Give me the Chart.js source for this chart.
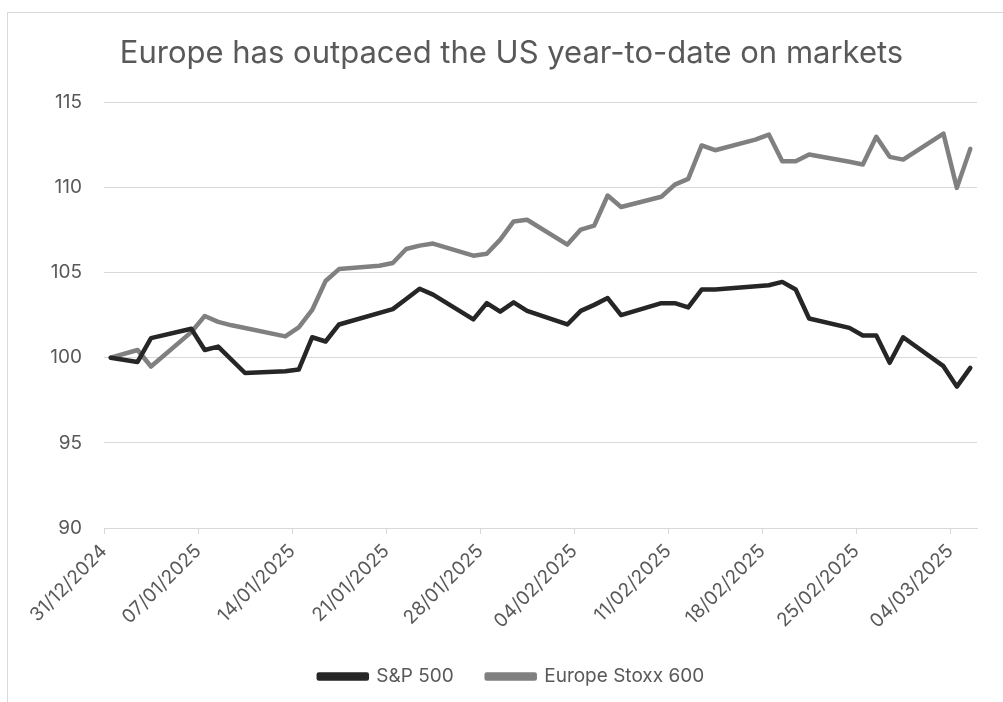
<!DOCTYPE html>
<html lang="en">
<head>
  <meta charset="UTF-8" />
  <title>Europe vs US markets</title>
  <script src="https://cdn.jsdelivr.net/npm/chart.js"></script>
  <style>
    body {
      margin: 0;
      background: #fff;
      overflow: hidden;
      width: 1003px;
      height: 702px;
      position: relative;
    }

    .frame {
      position: absolute;
      left: 7px;
      top: 12px;
      width: 1100px;
      height: 800px;
      border: 1px solid #d9d9d9;
    }

    #marketChart {
      position: absolute;
      left: 0;
      top: 0;
    }
  </style>
</head>
<body>
  <div class="frame"></div>
  <canvas id="marketChart" width="1023" height="704"></canvas>

  <script>
    // trading days (dd/mm/yyyy)
    const dates = [
      '31/12/2024', '02/01/2025', '03/01/2025', '06/01/2025', '07/01/2025', '08/01/2025',
      '09/01/2025', '10/01/2025', '13/01/2025', '14/01/2025', '15/01/2025', '16/01/2025',
      '17/01/2025', '20/01/2025', '21/01/2025', '22/01/2025', '23/01/2025', '24/01/2025',
      '27/01/2025', '28/01/2025', '29/01/2025', '30/01/2025', '31/01/2025', '03/02/2025',
      '04/02/2025', '05/02/2025', '06/02/2025', '07/02/2025', '10/02/2025', '11/02/2025',
      '12/02/2025', '13/02/2025', '14/02/2025', '17/02/2025', '18/02/2025', '19/02/2025',
      '20/02/2025', '21/02/2025', '24/02/2025', '25/02/2025', '26/02/2025', '27/02/2025',
      '28/02/2025', '03/03/2025', '04/03/2025', '05/03/2025'
    ];

    // S&P 500 rebased to 100 (null = US market closed)
    const sp500 = [
      100, 99.75, 101.15, 101.7, 100.45, 100.65,
      null, 99.1, 99.2, 99.3, 101.2, 100.95,
      101.95, null, 102.85, 103.45, 104.05, 103.7,
      102.25, 103.2, 102.7, 103.25, 102.75, 101.95,
      102.75, 103.1, 103.5, 102.5, 103.2, 103.2,
      102.95, 104.0, 104.0, null, 104.25, 104.45,
      104.0, 102.3, 101.75, 101.3, 101.3, 99.7,
      101.2, 99.5, 98.3, 99.4
    ];

    // Europe Stoxx 600 rebased to 100
    const stoxx600 = [
      100, 100.45, 99.48, 101.5, 102.45, 102.1,
      101.9, 101.74, 101.25, 101.78, 102.8, 104.5,
      105.2, 105.4, 105.56, 106.38, 106.58, 106.7,
      105.99, 106.1, 106.93, 108.0, 108.1, 106.64,
      107.52, 107.75, 109.52, 108.85, 109.45, 110.16,
      110.5, 112.46, 112.18, 112.8, 113.1, 111.53,
      111.53, 111.93, 111.5, 111.34, 112.97, 111.79,
      111.63, 113.16, 109.97, 112.26
    ];

    const tickLabels = [
      '31/12/2024', '07/01/2025', '14/01/2025', '21/01/2025', '28/01/2025',
      '04/02/2025', '11/02/2025', '18/02/2025', '25/02/2025', '04/03/2025'
    ];

    const yTicks = [90, 95, 100, 105, 110, 115];

    const DAY = 86400000;
    function toUTC(s) {
      const [d, m, y] = s.split('/').map(Number);
      return Date.UTC(y, m - 1, d);
    }
    const start = toUTC(dates[0]);
    const dayIndex = s => Math.round((toUTC(s) - start) / DAY);
    const pad = n => String(n).padStart(2, '0');
    function fmtDay(i) {
      const d = new Date(start + i * DAY);
      return pad(d.getUTCDate()) + '/' + pad(d.getUTCMonth() + 1) + '/' + d.getUTCFullYear();
    }

    const toPoints = vals => dates.map((s, i) => ({ x: dayIndex(s), y: vals[i] }));
    const lastDay = dayIndex(dates[dates.length - 1]);

    // Excel-style date axis: each day is a slot, tick marks sit on the slot edges
    const tickValues = tickLabels.map(s => dayIndex(s) - 0.5);

    const textColor = '#595959';
    const gridColor = '#d9d9d9';
    const fontFamily = 'Inter, "Open Sans", sans-serif';

    new Chart(document.getElementById('marketChart'), {
      type: 'line',
      data: {
        datasets: [
          {
            label: 'S&P 500',
            data: toPoints(sp500),
            borderColor: '#262626',
            backgroundColor: '#262626',
            borderWidth: 4.5,
            pointRadius: 0,
            tension: 0,
            spanGaps: true,
            borderJoinStyle: 'round',
            borderCapStyle: 'round'
          },
          {
            label: 'Europe Stoxx 600',
            data: toPoints(stoxx600),
            borderColor: '#808080',
            backgroundColor: '#808080',
            borderWidth: 4.5,
            pointRadius: 0,
            tension: 0,
            spanGaps: true,
            borderJoinStyle: 'round',
            borderCapStyle: 'round'
          }
        ]
      },
      options: {
        responsive: false,
        animation: false,
        layout: {
          padding: { left: 46, right: 46, top: 0, bottom: 8 }
        },
        plugins: {
          title: {
            display: true,
            text: 'Europe has outpaced the US year-to-date on markets',
            color: textColor,
            font: { family: fontFamily, size: 31, weight: 'normal' },
            padding: { top: 35, bottom: 30 }
          },
          legend: {
            position: 'bottom',
            labels: {
              color: textColor,
              font: { family: fontFamily, size: 19 },
              boxWidth: 48,
              boxHeight: 4,
              padding: 33
            }
          },
          tooltip: { enabled: false }
        },
        scales: {
          x: {
            type: 'linear',
            min: -0.5,
            max: lastDay + 0.5,
            afterBuildTicks: scale => {
              scale.ticks = tickValues.map(v => ({ value: v }));
            },
            afterFit: scale => { scale.height = 106; },
            grid: {
              drawOnChartArea: false,
              drawTicks: true,
              tickLength: 6,
              color: gridColor
            },
            border: { display: true, color: gridColor },
            ticks: {
              autoSkip: false,
              minRotation: 45,
              maxRotation: 45,
              padding: 6,
              color: textColor,
              font: { family: fontFamily, size: 19 },
              callback: v => fmtDay(Math.round(v + 0.5))
            }
          },
          y: {
            min: 90,
            max: 115,
            afterBuildTicks: scale => {
              scale.ticks = yTicks.map(v => ({ value: v }));
            },
            afterFit: scale => { scale.width = 58; },
            grid: { color: gridColor, drawTicks: false },
            border: { display: false },
            ticks: {
              padding: 22,
              color: textColor,
              font: { family: fontFamily, size: 19 }
            }
          }
        }
      }
    });
  </script>
</body>
</html>
